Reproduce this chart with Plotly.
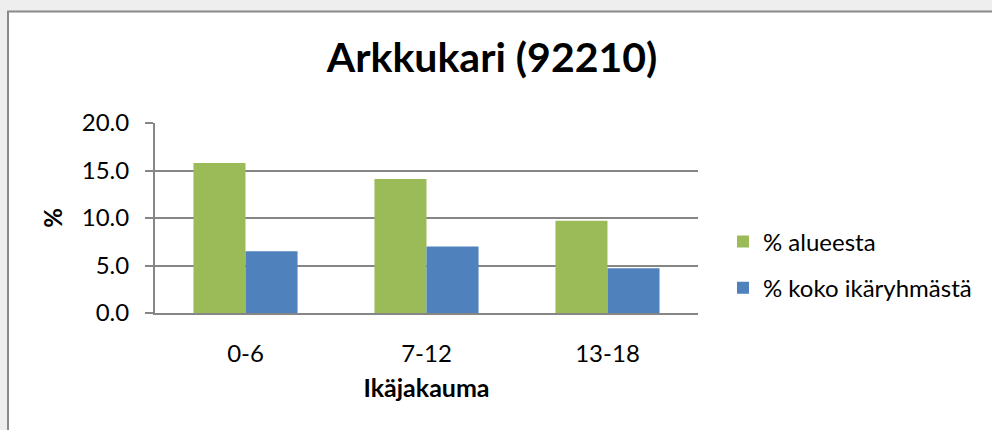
import plotly.graph_objects as go

# data
ikaryhmat = ["0-6", "7-12", "13-18"]
alueesta = [15.8, 14.1, 9.7]
koko_ikaryhmasta = [6.5, 7.0, 4.7]
y_ticks = [0, 5, 10, 15, 20]
y_tick_labels = ["0.0", "5.0", "10.0", "15.0", "20.0"]

fig = go.Figure()

fig.add_trace(go.Bar(
    x=ikaryhmat, y=alueesta, name="% alueesta",
    marker=dict(color="#9BBB59", line=dict(width=0)),
    legendgroup="a",
))
fig.add_trace(go.Bar(
    x=ikaryhmat, y=koko_ikaryhmasta, name="% koko ikäryhmästä",
    marker=dict(color="#4F81BD", line=dict(width=0)),
    legendgroup="b",
))

# kehys kaavion ympärille
fig.add_shape(
    type="rect", xref="paper", yref="paper",
    x0=-0.2707, x1=1.556, y0=-0.668, y1=1.5868,
    line=dict(color="#8a8a8a", width=2),
    fillcolor="white", layer="below",
)

fig.update_layout(
    width=992, height=430,
    margin=dict(l=155, r=294, t=123, b=117),
    paper_bgcolor="#eeeeee",
    plot_bgcolor="rgba(0,0,0,0)",
    font=dict(family="Lato", color="black"),
    title=dict(
        text="<b>Arkkukari (92210)</b>",
        x=0.496, xref="container", xanchor="center",
        y=0.866, yref="container", yanchor="middle",
        font=dict(size=41, family="Lato"),
    ),
    barmode="group",
    bargap=0.425,
    bargroupgap=0,
    showlegend=True,
    legend=dict(
        x=1.046, xanchor="left",
        y=0.2526, yanchor="middle",
        traceorder="grouped",
        tracegroupgap=12,
        font=dict(size=24),
        bgcolor="rgba(0,0,0,0)",
    ),
    xaxis=dict(
        title=dict(text="<b>Ikäjakauma</b>", font=dict(size=25), standoff=14),
        tickfont=dict(size=24),
        showline=True, linecolor="#868686", linewidth=2,
        showgrid=False,
        ticks="", ticklabelstandoff=18,
    ),
    yaxis=dict(
        title=dict(text="<b>%</b>", font=dict(size=24), standoff=12),
        range=[0, 20],
        tickvals=y_ticks, ticktext=y_tick_labels,
        tickfont=dict(size=24),
        showline=True, linecolor="#868686", linewidth=2,
        showgrid=True, gridcolor="#868686", gridwidth=1.5,
        ticks="outside", ticklen=8, tickcolor="#868686", tickwidth=1.5,
        ticklabelstandoff=11,
        zeroline=False,
    ),
)

fig.write_html(
    "out.html",
    config={"displayModeBar": False},
    post_script="document.body.style.margin='0';",
)
